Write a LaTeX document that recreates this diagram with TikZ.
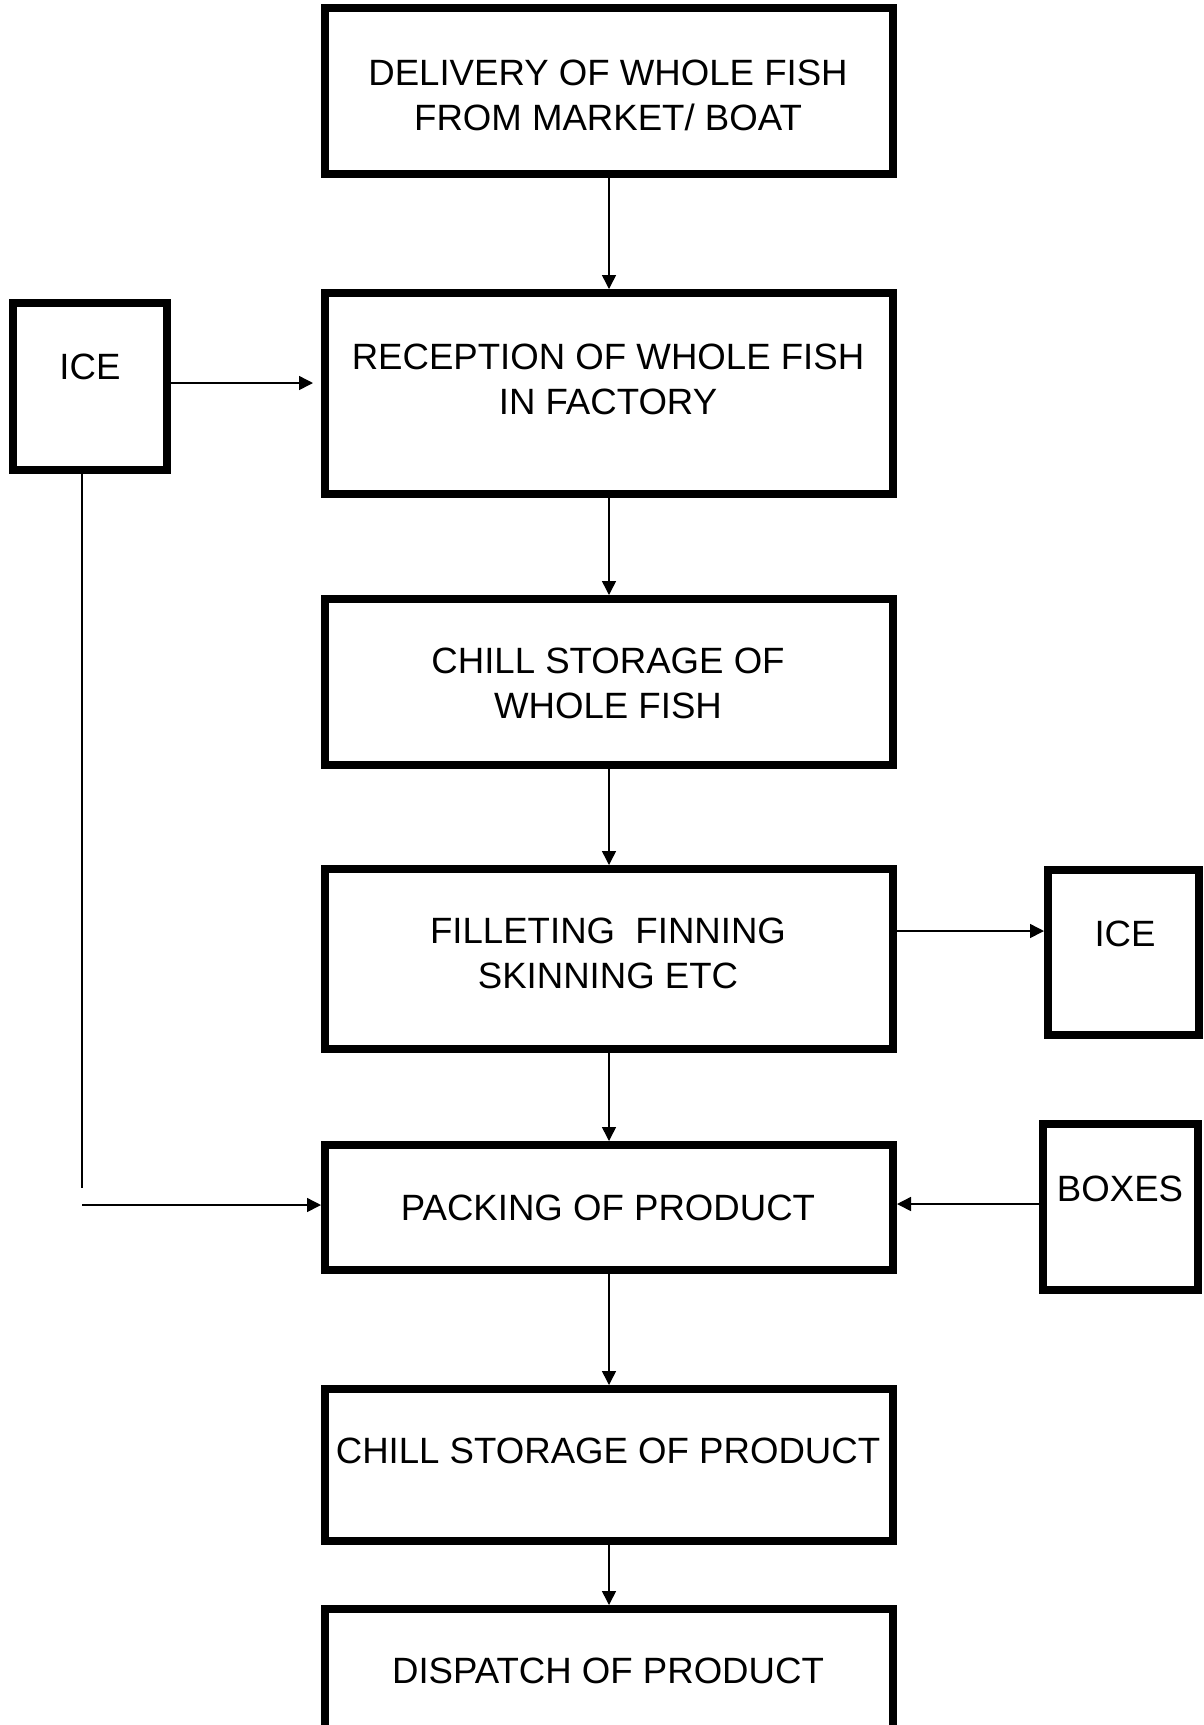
\documentclass[tikz,border=0pt]{standalone}
\usepackage{fontspec}
\setmainfont{Liberation Sans}
\usetikzlibrary{arrows.meta}
\begin{document}
\begin{tikzpicture}[x=1pt,y=-1pt,
  box/.style={draw,line width=8pt,inner sep=0pt,fill=white},
  lbl/.style={align=center,inner sep=0pt,font=\fontsize{36.6}{45}\selectfont},
  arr/.style={line width=1.5pt,-{Triangle[length=14pt,width=14pt]}},
  plain/.style={line width=1.5pt}]
\useasboundingbox (0,0) rectangle (1203,1725);
\fill[white] (0,0) rectangle (1203,1725);
% main boxes
\node[box,minimum width=568pt,minimum height=166pt] (b1) at (609,91) {};
\node[box,minimum width=568pt,minimum height=201pt] (b2) at (609,393.5) {};
\node[box,minimum width=568pt,minimum height=166pt] (b3) at (609,682) {};
\node[box,minimum width=568pt,minimum height=180pt] (b4) at (609,959) {};
\node[box,minimum width=568pt,minimum height=125pt] (b5) at (609,1207.5) {};
\node[box,minimum width=568pt,minimum height=152pt] (b6) at (609,1465) {};
\node[box,minimum width=568pt,minimum height=190pt] (b7) at (609,1704) {};
% side boxes
\node[box,minimum width=154pt,minimum height=167pt] (icel) at (90,386.5) {};
\node[box,minimum width=151pt,minimum height=165pt] (icer) at (1123.5,952.5) {};
\node[box,minimum width=155pt,minimum height=166pt] (boxes) at (1120.5,1207) {};
% texts
\node[lbl] (t1) at (608,95.5) {DELIVERY OF WHOLE FISH\\FROM MARKET/ BOAT};
\node[lbl] (t2) at (608,379.5) {RECEPTION OF WHOLE FISH\\IN FACTORY};
\node[lbl] (t3) at (608,683.5) {CHILL STORAGE OF\\WHOLE FISH};
\node[lbl] (t4) at (608,953.5) {FILLETING\ \ FINNING\\SKINNING ETC};
\node[lbl] (t5) at (608,1208) {PACKING OF PRODUCT};
\node[lbl] (t6) at (608,1451) {CHILL STORAGE OF PRODUCT};
\node[lbl] (t7) at (608,1671) {DISPATCH OF PRODUCT};
\node[lbl] (ti1) at (90,367) {ICE};
\node[lbl] (ti2) at (1125,934) {ICE};
\node[lbl] (tbx) at (1120,1189) {BOXES};
% connectors
\draw[arr] (b1.south) -- (b2.north);
\draw[arr] (b2.south) -- (b3.north);
\draw[arr] (b3.south) -- (b4.north);
\draw[arr] (b4.south) -- (b5.north);
\draw[arr] (b5.south) -- (b6.north);
\draw[arr] (b6.south) -- (b7.north);
\coordinate (ia) at (icel.east |- 0,383);
\coordinate (ib) at ([xshift=-8pt]b2.west |- 0,383);
\draw[arr] (ia) -- (ib);
\coordinate (lv0) at (icel.south -| 82,0);
\coordinate (lv1) at (82,1188);
\draw[plain] (lv0) -- (lv1);
\coordinate (lh) at (82,1205);
\draw[arr] (lh) -- (b5.west |- lh);
\coordinate (fa) at (b4.east |- 0,931);
\draw[arr] (fa) -- (icer.west |- fa);
\coordinate (ba) at (boxes.west |- 0,1204);
\draw[arr] (ba) -- (b5.east |- ba);
\end{tikzpicture}
\end{document}
